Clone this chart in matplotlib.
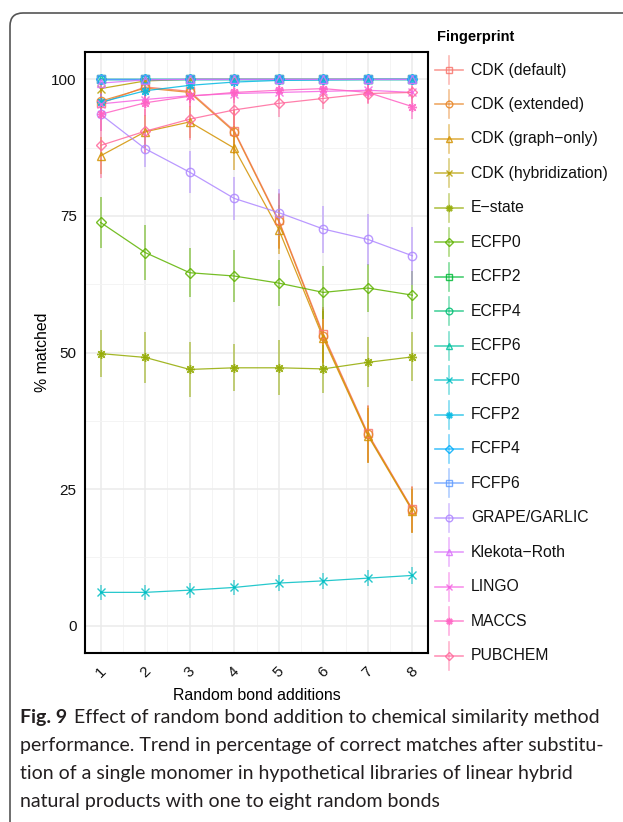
import numpy as np
import matplotlib
matplotlib.use("Agg")
import matplotlib.pyplot as plt
from matplotlib.patches import FancyBboxPatch
from matplotlib.transforms import IdentityTransform

# random bond additions
bonds = [1, 2, 3, 4, 5, 6, 7, 8]

fingerprints = ["CDK (default)", "CDK (extended)", "CDK (graph\u2212only)",
                "CDK (hybridization)", "E\u2212state", "ECFP0", "ECFP2", "ECFP4",
                "ECFP6", "FCFP0", "FCFP2", "FCFP4", "FCFP6", "GRAPE/GARLIC",
                "Klekota\u2212Roth", "LINGO", "MACCS", "PUBCHEM"]

# mean % matched per fingerprint
cdk_default = [95.6, 98.6, 97.8, 90.6, 74.2, 53.3, 35.2, 21.3]
cdk_extended = [96.0, 98.4, 97.6, 90.4, 74.0, 53.0, 35.0, 21.2]
cdk_graph = [86.0, 90.4, 92.2, 87.4, 72.5, 52.6, 34.8, 21.0]
cdk_hybrid = [98.3, 99.7, 100.0, 100.0, 100.0, 100.0, 100.0, 100.0]
estate = [49.8, 49.1, 46.9, 47.2, 47.2, 47.0, 48.2, 49.2]
ecfp0 = [73.8, 68.3, 64.6, 64.0, 62.7, 61.0, 61.8, 60.5]
ecfp2 = [100.0, 100.0, 100.0, 100.0, 100.0, 100.0, 100.0, 100.0]
ecfp4 = [100.0, 100.0, 100.0, 100.0, 100.0, 100.0, 100.0, 100.0]
ecfp6 = [100.0, 100.0, 100.0, 100.0, 100.0, 100.0, 100.0, 100.0]
fcfp0 = [6.1, 6.1, 6.5, 7.0, 7.8, 8.2, 8.7, 9.2]
fcfp2 = [95.8, 97.9, 98.9, 99.5, 99.8, 99.9, 100.0, 100.0]
fcfp4 = [100.0, 100.0, 100.0, 100.0, 100.0, 100.0, 100.0, 100.0]
fcfp6 = [100.0, 100.0, 100.0, 100.0, 100.0, 100.0, 100.0, 100.0]
grape = [93.6, 87.3, 83.0, 78.2, 75.6, 72.6, 70.7, 67.7]
klekota = [99.3, 99.9, 100.0, 100.0, 100.0, 100.0, 100.0, 100.0]
lingo = [95.5, 96.3, 97.0, 97.4, 97.6, 97.8, 98.0, 97.6]
maccs = [93.6, 95.7, 96.9, 97.6, 98.0, 98.3, 97.6, 95.0]
pubchem = [87.9, 90.5, 92.7, 94.4, 95.6, 96.5, 97.4, 97.6]

# half-width of the error bars
err_cdk_default = [3.0, 2.0, 2.0, 4.0, 5.0, 5.0, 5.2, 4.2]
err_cdk_extended = [3.0, 2.0, 2.0, 4.0, 5.0, 5.0, 5.2, 4.2]
err_cdk_graph = [3.4, 3.0, 3.0, 4.0, 4.5, 5.0, 5.0, 4.0]
err_cdk_hybrid = [1.0, 0.5, 0.2, 0.2, 0.2, 0.2, 0.2, 0.2]
err_estate = [4.3, 4.6, 5.1, 4.3, 5.0, 4.4, 4.6, 4.5]
err_ecfp0 = [4.7, 5.0, 4.5, 4.7, 4.2, 4.8, 4.4, 4.4]
err_ecfp2 = [0.3, 0.3, 0.3, 0.3, 0.3, 0.3, 0.3, 0.3]
err_ecfp4 = [0.3, 0.3, 0.3, 0.3, 0.3, 0.3, 0.3, 0.3]
err_ecfp6 = [0.3, 0.3, 0.3, 0.3, 0.3, 0.3, 0.3, 0.3]
err_fcfp0 = [1.4, 1.4, 1.4, 1.4, 1.4, 1.5, 1.5, 1.5]
err_fcfp2 = [1.5, 1.0, 0.7, 0.5, 0.3, 0.3, 0.2, 0.2]
err_fcfp4 = [0.3, 0.3, 0.3, 0.3, 0.3, 0.3, 0.3, 0.3]
err_fcfp6 = [0.3, 0.3, 0.3, 0.3, 0.3, 0.3, 0.3, 0.3]
err_grape = [3.0, 3.4, 3.8, 4.0, 4.3, 4.3, 4.6, 5.3]
err_klekota = [0.8, 0.3, 0.2, 0.2, 0.2, 0.2, 0.2, 0.2]
err_lingo = [2.0, 1.5, 1.3, 1.2, 1.2, 1.0, 1.0, 1.2]
err_maccs = [3.0, 2.5, 2.0, 2.0, 1.5, 1.5, 2.0, 2.2]
err_pubchem = [6.0, 4.0, 3.8, 3.0, 2.5, 2.0, 2.0, 2.0]

means = [cdk_default, cdk_extended, cdk_graph, cdk_hybrid, estate, ecfp0,
         ecfp2, ecfp4, ecfp6, fcfp0, fcfp2, fcfp4, fcfp6, grape, klekota,
         lingo, maccs, pubchem]
errs = [err_cdk_default, err_cdk_extended, err_cdk_graph, err_cdk_hybrid,
        err_estate, err_ecfp0, err_ecfp2, err_ecfp4, err_ecfp6, err_fcfp0,
        err_fcfp2, err_fcfp4, err_fcfp6, err_grape, err_klekota, err_lingo,
        err_maccs, err_pubchem]

caption_lines = ["Effect of random bond addition to chemical similarity method",
                 "performance. Trend in percentage of correct matches after substitu-",
                 "tion of a single monomer in hypothetical libraries of linear hybrid",
                 "natural products with one to eight random bonds"]


def hcl_hex(h, c=100.0, l=65.0):
    """ggplot-style hue colour (polar Luv -> sRGB)"""
    xn, yn, zn = 95.047, 100.0, 108.883
    y = yn * ((l + 16.0) / 116.0) ** 3
    den = xn + 15 * yn + 3 * zn
    un, vn = 4 * xn / den, 9 * yn / den
    u = c * np.cos(np.radians(h))
    v = c * np.sin(np.radians(h))
    up = u / (13 * l) + un
    vp = v / (13 * l) + vn
    x = 9.0 * y * up / (4 * vp)
    z = -x / 3 - 5 * y + 3 * y / vp
    m = np.array([[3.240479, -1.537150, -0.498535],
                  [-0.969256, 1.875992, 0.041556],
                  [0.055648, -0.204043, 1.057311]])
    rgb = m @ (np.array([x, y, z]) / 100.0)
    rgb = np.where(rgb <= 0.0031308, 12.92 * rgb, 1.055 * np.abs(rgb) ** (1 / 2.4) - 0.055)
    rgb = np.clip(rgb, 0, 1)
    return "#%02x%02x%02x" % tuple(int(round(k * 255)) for k in rgb)


hues = np.linspace(15, 375, len(fingerprints) + 1)[:-1]
colors = [hcl_hex(h) for h in hues]
shapes = ["s", "o", "^", "x", (8, 2, 0), "D"]
sizes = {"s": 5.5, "o": 6.0, "^": 6.0, "x": 5.5, "D": 4.8}

plt.rcParams["font.family"] = ["Liberation Sans", "DejaVu Sans"]

fig = plt.figure(figsize=(6.23, 8.22), dpi=100)
ax = fig.add_axes([85 / 623, 1 - 653 / 822, 343 / 623, 601 / 822])

for i, name in enumerate(fingerprints):
    col = colors[i]
    shp = shapes[i % 6]
    ms = sizes.get(shp, 6.5) if isinstance(shp, str) else 6.5
    y = np.array(means[i])
    e = np.array(errs[i])
    ax.vlines(bonds, y - e, y + e, color=col, lw=1.2, alpha=0.6, zorder=2)
    ax.plot(bonds, y, color=col, lw=0.9, alpha=0.85, zorder=3)
    ax.plot(bonds, y, ls="none", marker=shp, ms=ms, mfc="none", mec=col,
            mew=1.0, alpha=0.85, zorder=4)

ax.set_xlim(0.65, 8.35)
ax.set_ylim(-5, 105)
ax.set_xticks(bonds)
ax.set_xticks(np.arange(1.5, 8, 1), minor=True)
ax.set_yticks([0, 25, 50, 75, 100])
ax.set_yticks([12.5, 37.5, 62.5, 87.5], minor=True)
ax.grid(which="major", color="#ebebeb", lw=1.1, zorder=0)
ax.grid(which="minor", color="#f3f3f3", lw=0.6, zorder=0)
ax.set_axisbelow(True)
for sp in ax.spines.values():
    sp.set_color("black")
    sp.set_linewidth(1.5)
ax.tick_params(which="both", length=0)
ax.tick_params(axis="y", labelsize=11, pad=6, labelcolor="#111111")
ax.tick_params(axis="x", labelsize=11, pad=8, labelcolor="#111111")
for lab in ax.get_xticklabels():
    lab.set_rotation(45)
    lab.set_ha("center")
    lab.set_va("top")
ax.set_xlabel("Random bond additions", fontsize=11.4, labelpad=6)
ax.set_ylabel("% matched", fontsize=11.4, labelpad=1)

frame = FancyBboxPatch((10, -100), 900, 809 + 100, boxstyle="round,pad=0,rounding_size=13",
                       transform=IdentityTransform(), fc="none", ec="#555555", lw=1.2)
fig.add_artist(frame)

# overlay in pixel units for legend and caption
leg = fig.add_axes([0, 0, 1, 1])
leg.set_xlim(0, 623)
leg.set_ylim(822, 0)
leg.axis("off")
leg.text(437, 37, "Fingerprint", fontsize=10.5, fontweight="bold", va="center", ha="left")
for i, name in enumerate(fingerprints):
    yc = 70 + i * 34.45
    col = colors[i]
    shp = shapes[i % 6]
    ms = sizes.get(shp, 6.5) if isinstance(shp, str) else 6.5
    leg.plot([435, 463], [yc, yc], color=col, lw=1.2, alpha=0.7)
    leg.plot([449, 449], [yc - 14, yc + 14], color=col, lw=1.2, alpha=0.5)
    leg.plot([449], [yc], marker=shp, ms=ms * 0.8, mfc="none", mec=col, mew=1.0, alpha=0.85)
    leg.text(471, yc, name, fontsize=11.3, va="center", ha="left", color="#111111")

# caption
cap_font = ["Lato", "DejaVu Sans"]
t0 = leg.text(20, 717, "Fig. 9", fontsize=14, fontweight="bold", family=cap_font,
              va="center", ha="left", color="#231f20")
fig.canvas.draw()
bb = t0.get_window_extent()
x_after = bb.x1 + 7
leg.text(x_after, 717, caption_lines[0], fontsize=14, family=cap_font,
         va="center", ha="left", color="#231f20")
for k, line in enumerate(caption_lines[1:]):
    leg.text(20, 745 + 28 * k, line, fontsize=14, family=cap_font,
             va="center", ha="left", color="#231f20")

fig.savefig("out.png", dpi=100)
